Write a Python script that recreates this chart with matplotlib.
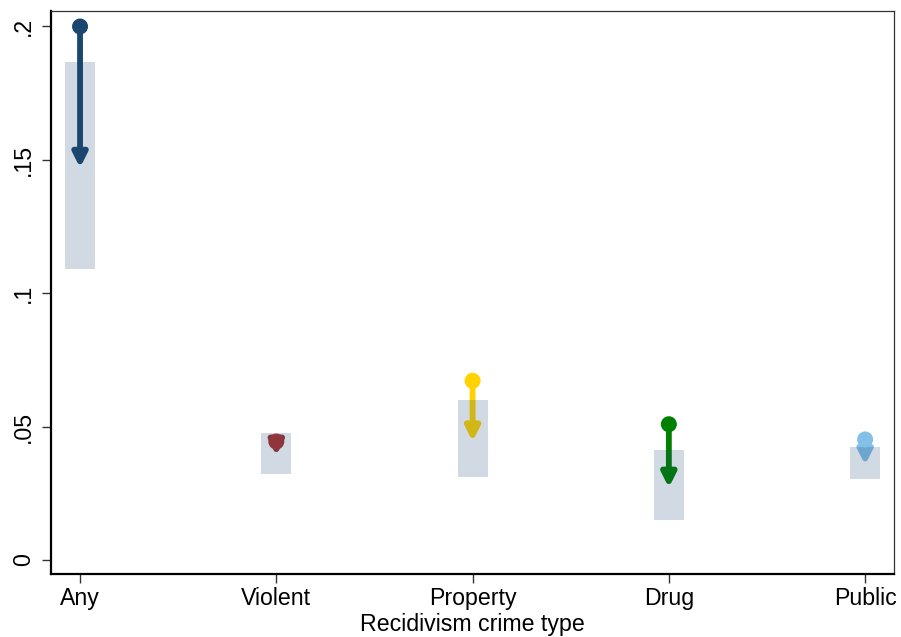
import numpy as np
import matplotlib
matplotlib.use("Agg")
import matplotlib.pyplot as plt

plt.rcParams['font.family'] = ['Liberation Sans', 'DejaVu Sans']

# data
crime_types = ['Any', 'Violent', 'Property', 'Drug', 'Public']
start_vals = [0.2, 0.0444, 0.0672, 0.0509, 0.0452]
end_vals = [0.147, 0.0391, 0.0444, 0.0271, 0.0356]
ci_low = [0.109, 0.0324, 0.0312, 0.0150, 0.0305]
ci_high = [0.1867, 0.0477, 0.0600, 0.0412, 0.0424]
colors = ['#1a476f', '#90353b', '#ffd200', '#008000', '#82c0e8']

x = np.arange(1, len(crime_types) + 1)
fs = 16.7

fig = plt.figure(figsize=(9.01, 6.37), dpi=100)
ax = fig.add_axes([0.0566, 0.0989, 0.9356, 0.8838])

# arrows from start to end value
for xi, s, e, c in zip(x, start_vals, end_vals, colors):
    ax.annotate('', xy=(xi, e), xytext=(xi, s),
                arrowprops=dict(arrowstyle='-|>', lw=4.2, color=c,
                                mutation_scale=21, shrinkA=0, shrinkB=0,
                                joinstyle='round', capstyle='butt'),
                zorder=2)

# confidence band
ax.bar(x, np.array(ci_high) - np.array(ci_low), bottom=ci_low, width=0.153,
       color='#1a476f', alpha=0.2, zorder=4, linewidth=0)

ax.scatter(x, start_vals, s=11.5**2, c=colors, zorder=5, linewidths=0)

ax.set_xlim(0.852, 5.147)
ax.set_ylim(-0.00525, 0.2058)
ax.set_xticks(x)
ax.set_xticklabels(crime_types, fontsize=fs)
ax.set_yticks([0, 0.05, 0.1, 0.15, 0.2])
ax.set_yticklabels(['0', '.05', '.1', '.15', '.2'], fontsize=fs,
                   rotation=90, va='center')
ax.tick_params(axis='both', length=6.5, width=1.0, color='#333333')
ax.tick_params(axis='y', pad=5)
ax.tick_params(axis='x', pad=3)
ax.set_xlabel('Recidivism crime type', fontsize=fs, labelpad=2)

for side in ['left', 'bottom']:
    ax.spines[side].set_linewidth(1.6)
for side in ['top', 'right']:
    ax.spines[side].set_linewidth(0.9)
    ax.spines[side].set_color('#333333')

fig.savefig('out.png', dpi=100)
